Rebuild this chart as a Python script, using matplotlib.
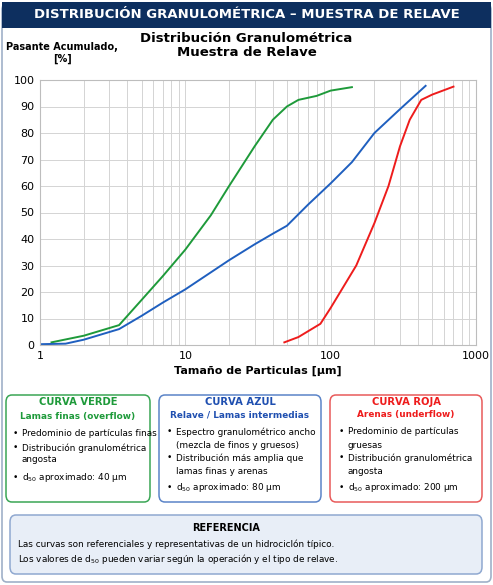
import matplotlib
matplotlib.use("Agg")
import matplotlib.pyplot as plt
from matplotlib.patches import FancyBboxPatch, Rectangle
from matplotlib.ticker import NullFormatter

green_x = [1.2, 2, 3.5, 5, 7, 10, 15, 20, 30, 40, 50, 60, 80, 100, 140]
green_y = [1, 3.5, 7.5, 17, 26, 36, 49, 60, 75, 85, 90, 92.5, 94, 96, 97.3]
blue_x = [1, 1.5, 2, 3.5, 5, 7, 10, 20, 30, 40, 50, 70, 100, 140, 200, 300, 450]
blue_y = [0.3, 0.5, 2, 6, 11, 16, 21, 32, 38, 42, 45, 53, 61, 69, 80, 89, 97.8]
red_x = [48, 60, 85, 100, 150, 200, 250, 300, 350, 420, 500, 700]
red_y = [1, 3, 8, 14, 30, 46, 60, 75, 85, 92.5, 94.5, 97.5]

W, H = 493, 585
fig = plt.figure(figsize=(W/100, H/100), dpi=100)
fig.patch.set_facecolor("white")
navy = "#0d2f5f"
plt.rcParams['mathtext.fontset'] = 'dejavusans'

def px(x, y):
    return x / W, 1 - y / H

fig.add_artist(FancyBboxPatch(px(2, 582), (W-4)/W, 578/H, boxstyle="round,pad=0,rounding_size=0.01",
                              transform=fig.transFigure, fc="white", ec="#9fb0c8", lw=1.2, zorder=-10))
fig.add_artist(Rectangle(px(2, 28), (W-4)/W, 26/H, transform=fig.transFigure, fc=navy, ec="none", zorder=-9))
fig.text(0.5, 1-15/H, "DISTRIBUCIÓN GRANULOMÉTRICA – MUESTRA DE RELAVE", ha="center", va="center",
         color="white", fontsize=9.5, fontweight="bold")

ax = fig.add_axes([40/W, 1-345/H, 436/W, 265/H])
ax.set_zorder(5)
ax.set_xscale("log")
ax.set_xlim(1, 1000)
ax.set_ylim(0, 100)
ax.plot(green_x, green_y, color="#1e9a3a", lw=1.4)
ax.plot(blue_x, blue_y, color="#1f5fbf", lw=1.4)
ax.plot(red_x, red_y, color="#ee1c1c", lw=1.4)
ax.set_yticks(range(0, 101, 10))
ax.set_xticks([1, 10, 100, 1000])
ax.set_xticklabels(["1", "10", "100", "1000"])
ax.xaxis.set_minor_formatter(NullFormatter())
ax.grid(True, which="both", color="#d4d4d4", lw=0.7)
ax.tick_params(which="both", length=0, labelsize=8, pad=4)
for s in ax.spines.values():
    s.set_color("#bdbdbd")
ax.set_xlabel("Tamaño de Particulas [µm]", fontsize=8, fontweight="bold", labelpad=4)

fig.text(0.5, 1-46/H, "Distribución Granulométrica\nMuestra de Relave", ha="center", va="center",
         fontsize=9.5, fontweight="bold", linespacing=1.1)
fig.text(62/W, 1-53/H, "Pasante Acumulado,\n[%]", ha="center", va="center", fontsize=7,
         fontweight="bold", linespacing=1.3)

def box(x0, y0, x1, y1, ec, fc="white"):
    fig.add_artist(FancyBboxPatch(px(x0, y1), (x1-x0)/W, (y1-y0)/H,
                                  boxstyle="round,pad=0,rounding_size=0.012",
                                  transform=fig.transFigure, fc=fc, ec=ec, lw=1.1, zorder=-5))

fs = 6.4
def t(x, y, s, **kw):
    kw.setdefault("fontsize", fs)
    fig.text(x/W, 1-y/H, s, va="center", **kw)

box(6, 395, 150, 502, "#3aa655")
t(78, 402, "CURVA VERDE", ha="center", color="#1e9a3a", fontweight="bold", fontsize=7.2)
t(78, 417, "Lamas finas (overflow)", ha="center", color="#1e9a3a", fontweight="bold")
for y, s in [(434, "Predominio de partículas finas"), (448, "Distribución granulométrica")]:
    t(13, y, "•"); t(22, y, s)
t(22, 460, "angosta")
t(13, 478, "•"); t(22, 478, r"d$_{50}$ aproximado: 40 µm")

box(159, 395, 321, 502, "#5b84c8")
t(240, 402, "CURVA AZUL", ha="center", color="#1f4fb0", fontweight="bold", fontsize=7.2)
t(240, 415, "Relave / Lamas intermedias", ha="center", color="#1f4fb0", fontweight="bold")
t(167, 432, "•"); t(176, 432, "Espectro granulométrico ancho")
t(176, 445, "(mezcla de finos y gruesos)")
t(167, 458, "•"); t(176, 458, "Distribución más amplia que")
t(176, 471, "lamas finas y arenas")
t(167, 487, "•"); t(176, 487, r"d$_{50}$ aproximado: 80 µm")

box(330, 395, 482, 502, "#e85a5a")
t(406, 402, "CURVA ROJA", ha="center", color="#ee1c1c", fontweight="bold", fontsize=7.2)
t(406, 415, "Arenas (underflow)", ha="center", color="#ee1c1c", fontweight="bold")
t(339, 432, "•"); t(348, 432, "Predominio de partículas")
t(348, 445, "gruesas")
t(339, 458, "•"); t(348, 458, "Distribución granulométrica")
t(348, 471, "angosta")
t(339, 487, "•"); t(348, 487, r"d$_{50}$ aproximado: 200 µm")

box(10, 515, 482, 574, "#8fa8d0", fc="#e8eef7")
t(226, 528, "REFERENCIA", ha="center", fontweight="bold", fontsize=7)
t(18, 544, "Las curvas son referenciales y representativas de un hidrociclón típico.")
t(18, 559, r"Los valores de d$_{50}$ pueden variar según la operación y el tipo de relave.")

fig.savefig("out.png", dpi=100, facecolor="white")
